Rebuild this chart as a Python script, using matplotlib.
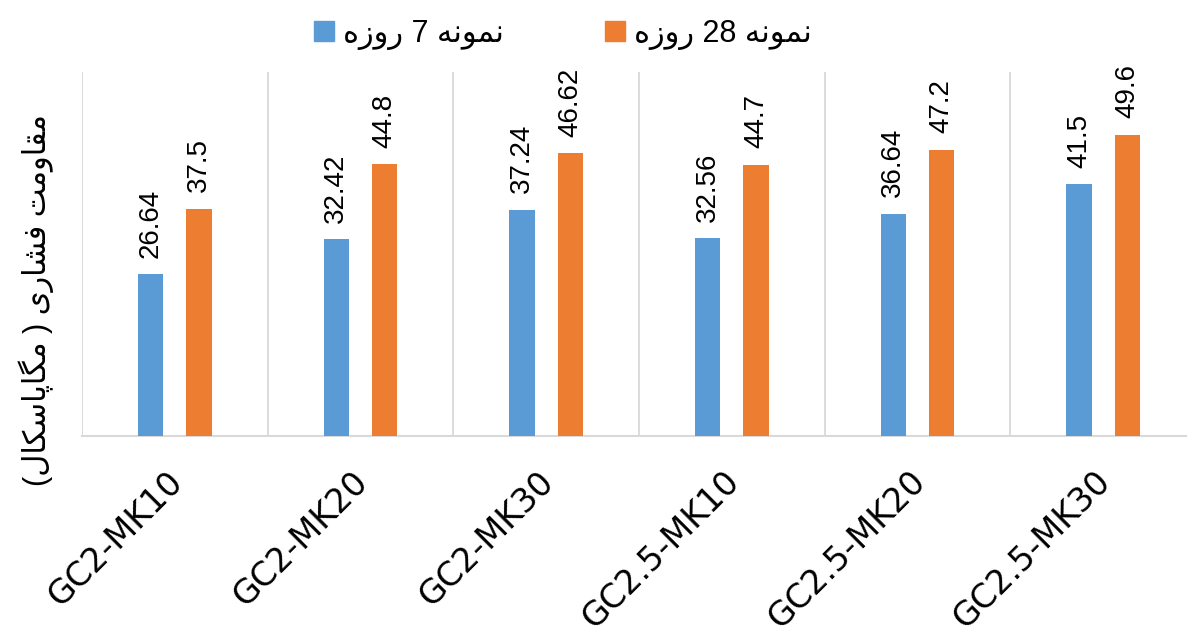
import numpy as np
import matplotlib
matplotlib.use("Agg")
import matplotlib.pyplot as plt
from matplotlib.patches import Patch
from matplotlib.transforms import ScaledTranslation

categories = ["GC2-MK10", "GC2-MK20", "GC2-MK30", "GC2.5-MK10", "GC2.5-MK20", "GC2.5-MK30"]
day7 = [26.64, 32.42, 37.24, 32.56, 36.64, 41.5]
day28 = [37.5, 44.8, 46.62, 44.7, 47.2, 49.6]
series_names = ["نمونه 7 روزه", "نمونه 28 روزه"]
ylabel_text = "مقاومت فشاری ( مگاپاسکال)"

# ---- minimal Arabic/Persian shaping + bidi for matplotlib ----
FORMS = {
    '\u0627': ('\uFE8D', '\uFE8E', None, None),
    '\u062A': ('\uFE95', '\uFE96', '\uFE97', '\uFE98'),
    '\u0631': ('\uFEAD', '\uFEAE', None, None),
    '\u0632': ('\uFEAF', '\uFEB0', None, None),
    '\u0633': ('\uFEB1', '\uFEB2', '\uFEB3', '\uFEB4'),
    '\u0634': ('\uFEB5', '\uFEB6', '\uFEB7', '\uFEB8'),
    '\u0641': ('\uFED1', '\uFED2', '\uFED3', '\uFED4'),
    '\u0642': ('\uFED5', '\uFED6', '\uFED7', '\uFED8'),
    '\u06A9': ('\uFB8E', '\uFB8F', '\uFB90', '\uFB91'),
    '\u06AF': ('\uFB92', '\uFB93', '\uFB94', '\uFB95'),
    '\u0644': ('\uFEDD', '\uFEDE', '\uFEDF', '\uFEE0'),
    '\u0645': ('\uFEE1', '\uFEE2', '\uFEE3', '\uFEE4'),
    '\u0646': ('\uFEE5', '\uFEE6', '\uFEE7', '\uFEE8'),
    '\u0647': ('\uFEE9', '\uFEEA', '\uFEEB', '\uFEEC'),
    '\u0648': ('\uFEED', '\uFEEE', None, None),
    '\u06CC': ('\uFBFC', '\uFBFD', '\uFBFE', '\uFBFF'),
    '\u067E': ('\uFB56', '\uFB57', '\uFB58', '\uFB59'),
}


def shape_rtl(s):
    out = []
    n = len(s)
    for i, c in enumerate(s):
        if c not in FORMS:
            out.append(c)
            continue
        prev = s[i - 1] if i > 0 else None
        nxt = s[i + 1] if i < n - 1 else None
        jp = prev in FORMS and FORMS[prev][2] is not None
        jn = FORMS[c][2] is not None and nxt in FORMS
        iso, fin, ini, med = FORMS[c]
        if jp and jn:
            out.append(med)
        elif jp:
            out.append(fin)
        elif jn:
            out.append(ini)
        else:
            out.append(iso)
    shaped = ''.join(out)
    # visual order: reverse everything, keep digit runs LTR, mirror parens
    rev = shaped[::-1]
    res, run = [], ''
    for ch in rev:
        if ch.isdigit() or (run and ch == '.'):
            run += ch
        else:
            if run:
                res.append(run[::-1])
                run = ''
            res.append({'(': ')', ')': '('}.get(ch, ch))
    if run:
        res.append(run[::-1])
    return ''.join(res)


FAM = ['Liberation Sans', 'DejaVu Sans']
plt.rcParams['font.family'] = FAM

W, H = 1187, 639
fig = plt.figure(figsize=(W / 100, H / 100), dpi=100)
ax = fig.add_axes([82 / W, (H - 436) / H, (1196 - 82) / W, (436 - 72) / H])

blue = '#5B9BD5'
orange = '#ED7D31'
x = np.arange(len(categories))
bw = 0.135
off = 0.13
b1 = ax.bar(x - off, day7, bw, color=blue, zorder=3)
b2 = ax.bar(x + off, day28, bw, color=orange, zorder=3)

for bars, vals in ((b1, day7), (b2, day28)):
    for r, v in zip(bars, vals):
        ax.annotate(f"{v:g}", (r.get_x() + r.get_width() / 2, r.get_height()),
                    xytext=(0, 12), textcoords='offset points', rotation=90,
                    ha='center', va='bottom', fontsize=20, color='#000000')

ax.set_xlim(-0.5, len(categories) - 0.5)
ax.set_ylim(0, 60)
ax.set_yticks([])
ax.set_xticks(x)
ax.set_xticklabels(categories, rotation=45, ha='right', va='top', fontsize=24,
                   family=['DejaVu Sans'])
ax.tick_params(axis='x', length=0, pad=21)
shift = ScaledTranslation(14 / 100, 0, fig.dpi_scale_trans)
for lab in ax.get_xticklabels():
    lab.set_transform(lab.get_transform() + shift)
ax.set_xticks(np.arange(-0.5, len(categories), 1), minor=True)
ax.tick_params(axis='x', which='minor', length=0)
ax.grid(which='minor', axis='x', color='#D9D9D9', linewidth=1.3, zorder=0)
for sp in ('top', 'right', 'left'):
    ax.spines[sp].set_visible(False)
ax.spines['bottom'].set_color('#D9D9D9')
ax.spines['bottom'].set_linewidth(1.5)

handles = [Patch(color=blue), Patch(color=orange)]
fig.legend(handles, [shape_rtl(t) for t in series_names], loc='center',
           bbox_to_anchor=(563 / W, 1 - 34 / H), ncol=2, frameon=False,
           fontsize=22, handlelength=0.65, handleheight=0.65, handletextpad=0.3,
           columnspacing=3.3)

fig.text(36 / W, 1 - 300 / H, shape_rtl(ylabel_text), rotation=90, ha='center',
         va='center', fontsize=22)

fig.savefig('out.png', dpi=100)
